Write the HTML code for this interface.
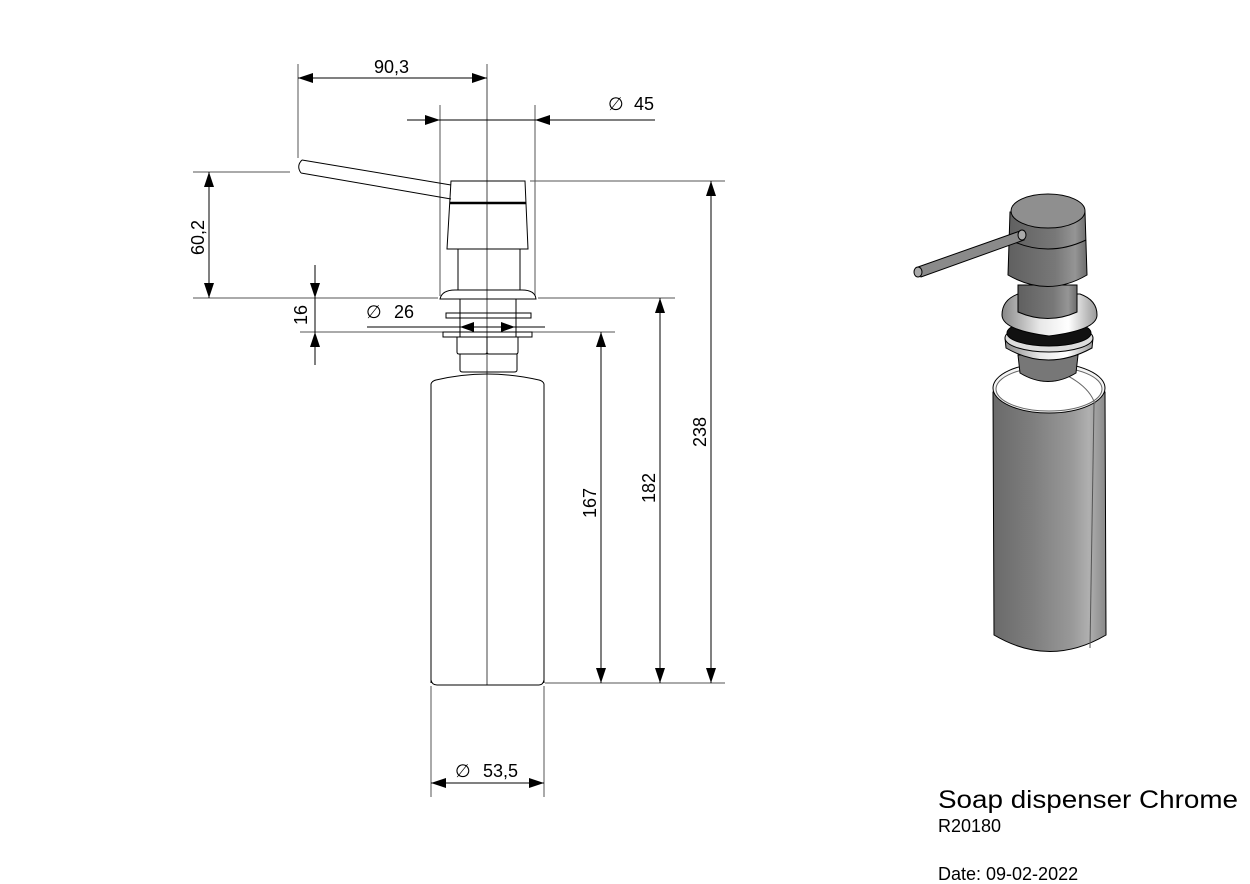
<!DOCTYPE html>
<html><head><meta charset="utf-8"><style>
html,body{margin:0;padding:0;background:#fff;}
svg{display:block;}
text{font-family:"Liberation Sans",Arial,sans-serif;fill:#000;}
</style></head><body>
<svg width="1250" height="884" viewBox="0 0 1250 884" xmlns="http://www.w3.org/2000/svg">
<defs>
<linearGradient id="gb" x1="0" x2="1" y1="0" y2="0">
<stop offset="0" stop-color="#6a6a6a"/><stop offset="0.35" stop-color="#7e7e7e"/><stop offset="0.7" stop-color="#999"/><stop offset="0.85" stop-color="#b0b0b0"/><stop offset="1" stop-color="#888"/>
</linearGradient>
<linearGradient id="gh" x1="0" x2="1" y1="0" y2="0">
<stop offset="0" stop-color="#606060"/><stop offset="0.6" stop-color="#787878"/><stop offset="0.85" stop-color="#959595"/><stop offset="1" stop-color="#6c6c6c"/>
</linearGradient>
<linearGradient id="gf" x1="0" x2="1" y1="0" y2="0">
<stop offset="0" stop-color="#888"/><stop offset="0.4" stop-color="#e8e8e8"/><stop offset="0.7" stop-color="#fff"/><stop offset="1" stop-color="#999"/>
</linearGradient>
</defs>

<g stroke="#000" stroke-width="1" fill="none">
<line x1="487" y1="68" x2="487" y2="685" stroke="#444"/>
<g stroke="#555">
<line x1="298" y1="64" x2="298" y2="158"/>
<line x1="487" y1="64" x2="487" y2="78"/>
<line x1="440" y1="105" x2="440" y2="296"/>
<line x1="535" y1="105" x2="535" y2="296"/>
<line x1="193" y1="172" x2="290" y2="172"/>
<line x1="193" y1="298" x2="438" y2="298"/>
<line x1="538" y1="298" x2="675" y2="298"/>
<line x1="530" y1="181" x2="725" y2="181"/>
<line x1="300" y1="332" x2="615" y2="332"/>
<line x1="545" y1="683" x2="725" y2="683"/>
<line x1="431" y1="686" x2="431" y2="797"/>
<line x1="544" y1="686" x2="544" y2="797"/>
</g>
<line x1="298" y1="78" x2="487" y2="78"/>
<line x1="407" y1="120" x2="655" y2="120"/>
<line x1="209" y1="172" x2="209" y2="298"/>
<line x1="315" y1="265" x2="315" y2="365"/>
<line x1="367" y1="327" x2="545" y2="327"/>
<line x1="601" y1="332" x2="601" y2="683"/>
<line x1="660" y1="298" x2="660" y2="683"/>
<line x1="711" y1="181" x2="711" y2="683"/>
<line x1="431" y1="783" x2="544" y2="783"/>
</g>
<g fill="#000">
<polygon points="298,78 313,73 313,83"/>
<polygon points="487,78 472,73 472,83"/>
<polygon points="440,120 425,115 425,125"/>
<polygon points="535,120 550,115 550,125"/>
<polygon points="209,172 204,187 214,187"/>
<polygon points="209,298 204,283 214,283"/>
<polygon points="315,298 310,283 320,283"/>
<polygon points="315,332 310,347 320,347"/>
<polygon points="460,327 474,322 474,332"/>
<polygon points="515,327 501,322 501,332"/>
<polygon points="601,332 596,347 606,347"/>
<polygon points="601,683 596,668 606,668"/>
<polygon points="660,298 655,313 665,313"/>
<polygon points="660,683 655,668 665,668"/>
<polygon points="711,181 706,196 716,196"/>
<polygon points="711,683 706,668 716,668"/>
<polygon points="431,783 446,778 446,788"/>
<polygon points="544,783 529,778 529,788"/>
</g>
<g font-size="18">
<text x="374" y="73">90,3</text>
<text x="608" y="110">∅</text><text x="634" y="110">45</text>
<text x="366" y="318">∅</text><text x="394" y="318">26</text>
<text x="455" y="777">∅</text><text x="483" y="777">53,5</text>
<text transform="translate(204,255) rotate(-90)">60,2</text>
<text transform="translate(307,325) rotate(-90)">16</text>
<text transform="translate(596,518) rotate(-90)">167</text>
<text transform="translate(655,503) rotate(-90)">182</text>
<text transform="translate(706,447) rotate(-90)">238</text>
</g>

<g stroke="#000" stroke-width="1" fill="none">
<path d="M302,160 L451,185 M301,173 L451,199"/>
<path d="M302,160 Q296,166 301,173"/>
<path d="M451,181 L525,181 L528,249 L447,249 Z"/>
<line x1="450" y1="203" x2="526" y2="203" stroke-width="2.5"/>
<path d="M458,249 L458,290 M520,249 L520,290"/>
<path d="M440,299 Q442,290 455,290 L522,290 Q535,290 536,299 Z"/>
<path d="M460,299 L460,337 M516,299 L516,337"/>
<rect x="446" y="313" width="85" height="5"/>
<rect x="443" y="332" width="89" height="5"/>
<path d="M457,337 L457,352 Q457,354 459,354 L485,354 Q487,354 487,352 L487,337 M487,352 Q487,354 489,354 L516,354 Q518,354 518,352 L518,337"/>
<path d="M460,354 L460,370 Q460,372 463,372 L514,372 Q517,372 517,370 L517,354"/>
<path d="M431,683 L431,384 Q432,381 436,380 Q487,368 539,380 Q543,381 544,384 L544,683"/>
<path d="M431,680 Q432,685 437,685 L539,685 Q543,685 544,680"/>
</g>

<g stroke="#000" stroke-width="1">
<path d="M993,392 L994,635 Q1050,668 1106,635 L1105,392 Z" fill="url(#gb)"/>
<ellipse cx="1049" cy="388" rx="56" ry="25" fill="#f4f4f4"/>
<ellipse cx="1049" cy="389" rx="53" ry="22" fill="#fff" stroke="#666"/>
<path d="M1068,376 Q1090,388 1095,404" fill="none" stroke="#666"/>
<line x1="1094" y1="404" x2="1090" y2="648" stroke="#555"/>
<path d="M1018,355 L1020,373 Q1048,390 1076,373 L1078,355 Z" fill="#777"/>
<path d="M1005,338 L1006,348 Q1048,372 1092,348 L1093,338 Z" fill="url(#gf)"/>
<ellipse cx="1049" cy="338" rx="44" ry="14" fill="#ddd"/>
<ellipse cx="1049" cy="333" rx="42" ry="13" fill="#111"/>
<path d="M1002,315 Q1002,300 1018,294 L1080,294 Q1097,300 1097,315 Q1097,330 1049,336 Q1002,330 1002,315 Z" fill="url(#gf)"/>
<path d="M1018,285 L1018,312 Q1048,325 1077,312 L1077,285 Z" fill="url(#gh)"/>
<path d="M1010,212 L1008,275 Q1048,298 1087,275 L1085,212 Z" fill="url(#gh)"/>
<path d="M1010,240 Q1048,258 1086,240" fill="none"/>
<ellipse cx="1048" cy="211" rx="37" ry="17" fill="#8f8f8f"/>
<path d="M918,267 L1020,231 L1024,240 L921,277 Z" fill="#8a8a8a"/>
<ellipse cx="918" cy="272" rx="4" ry="5" fill="#aaa"/>
<ellipse cx="1022" cy="235" rx="4" ry="5" fill="#aaa"/>
</g>

<text x="938" y="808" font-size="25" textLength="300" lengthAdjust="spacingAndGlyphs">Soap dispenser Chrome</text>
<text x="938" y="832" font-size="18">R20180</text>
<text x="938" y="880" font-size="18">Date: 09-02-2022</text>
</svg>
</body></html>
